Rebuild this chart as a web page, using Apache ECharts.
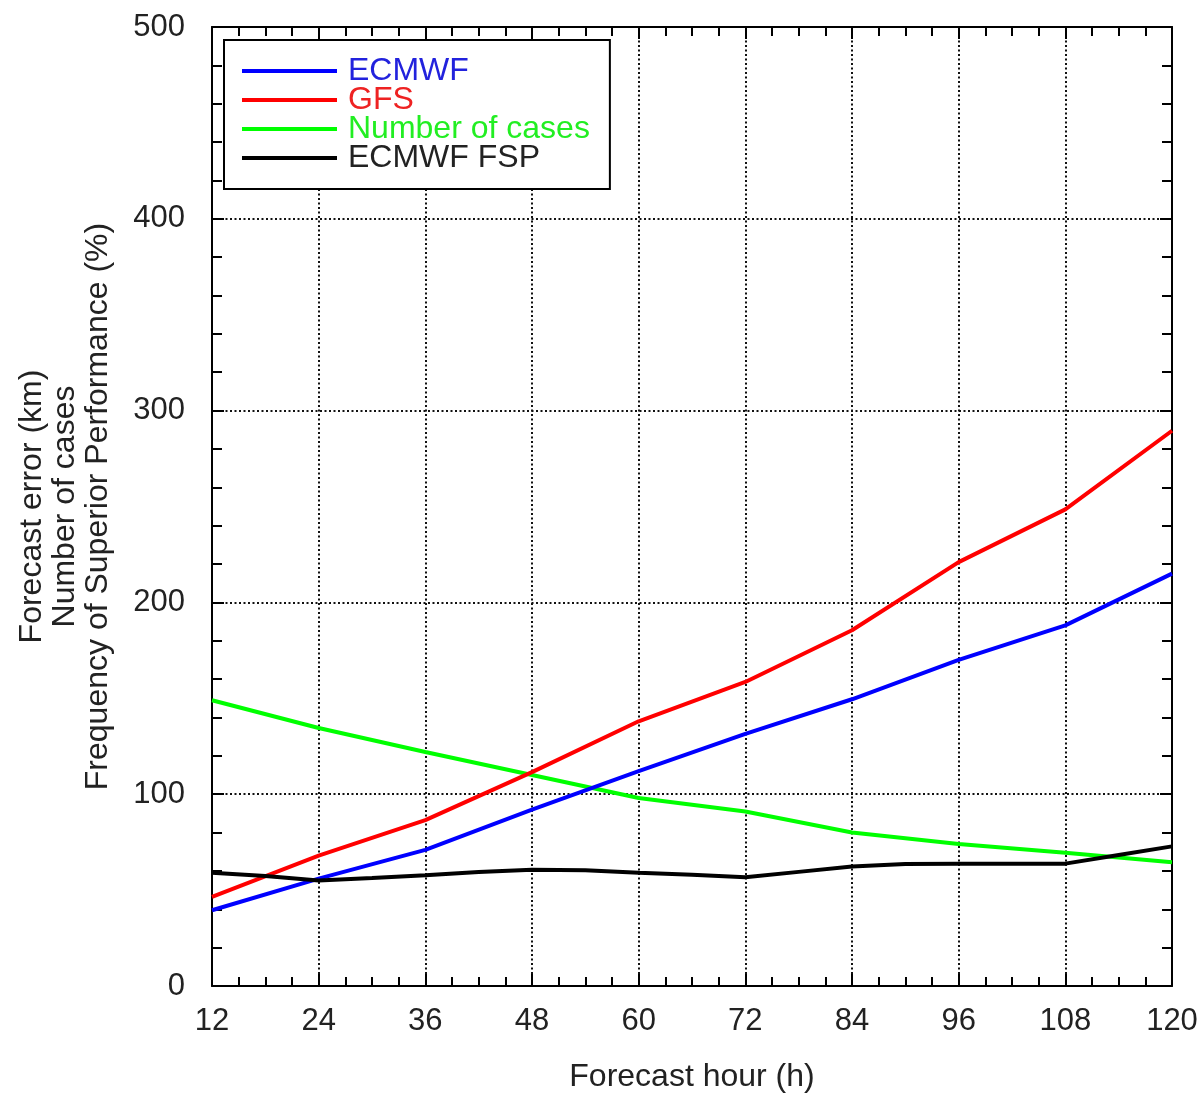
<!DOCTYPE html>
<html>
<head>
<meta charset="utf-8">
<script src="https://cdn.jsdelivr.net/npm/echarts@6/dist/echarts.min.js"></script>
<style>
html,body{margin:0;padding:0;background:#fff;}
#chart{width:1203px;height:1098px;}
</style>
</head>
<body>
<div id="chart"></div>
<script>
var hours = [12, 24, 36, 48, 60, 72, 84, 96, 108, 120];
var ecmwf = [39.5, 56, 71, 92, 112, 131.5, 149.5, 170, 188, 215];
var gfs = [46.5, 68, 86.5, 111.5, 138, 158.5, 185.5, 221, 248.5, 289.5];
var cases = [149, 134.5, 122, 110, 98, 91, 80, 74, 69.5, 64.5];
var fspHours = [12, 18, 24, 30, 36, 42, 48, 54, 60, 66, 72, 78, 84, 90, 96, 102, 108, 114, 120];
var fsp = [59.1, 57.3, 55, 56.3, 57.7, 59.4, 60.6, 60.4, 59.1, 58, 56.7, 59.5, 62.3, 63.6, 63.8, 63.8, 63.8, 68.3, 72.8];
var xTicks = ['12', '24', '36', '48', '60', '72', '84', '96', '108', '120'];
var yTicks = ['0', '100', '200', '300', '400', '500'];

function pairs(xs, ys) { return xs.map(function (x, i) { return [x, ys[i]]; }); }

var FONT = 'Liberation Sans';
var TXT = '#222';
var chart = echarts.init(document.getElementById('chart'));

var gridLine = { show: true, lineStyle: { color: '#111', width: 2, type: [2, 2.5] } };
var axLine = { show: true, onZero: false, lineStyle: { color: '#000', width: 2 } };
var tick = { show: true, inside: true, length: 12, lineStyle: { color: '#000', width: 2 } };

chart.setOption({
  backgroundColor: '#fff',
  animation: false,
  grid: { left: 212, right: 31, top: 27, bottom: 111, containLabel: false },
  legend: {
    orient: 'vertical',
    left: 224,
    top: 40,
    padding: [15, 20, 15, 18],
    backgroundColor: '#fff',
    borderColor: '#000',
    borderWidth: 2,
    borderRadius: 0,
    itemWidth: 95,
    itemHeight: 4,
    itemGap: -3,
    icon: 'rect',
    textStyle: { fontFamily: FONT, fontSize: 32, lineHeight: 29, padding: [0, 0, 0, 6] },
    data: [
      { name: 'ECMWF', textStyle: { color: '#2222dd' } },
      { name: 'GFS', textStyle: { color: '#ee2222' } },
      { name: 'Number of cases', textStyle: { color: '#22ee22' } },
      { name: 'ECMWF FSP', textStyle: { color: '#222' } }
    ]
  },
  xAxis: [{
    type: 'value', min: 12, max: 120, interval: 12,
    name: 'Forecast hour (h)', nameLocation: 'middle', nameGap: 75,
    nameTextStyle: { fontFamily: FONT, fontSize: 32, color: TXT },
    axisLine: axLine, axisTick: tick,
    minorTick: { show: true, splitNumber: 4, length: 9, lineStyle: { color: '#000', width: 2 } },
    axisLabel: { fontFamily: FONT, fontSize: 31, color: TXT, margin: 20,
      formatter: function (v) { var i = hours.indexOf(v); return i >= 0 ? xTicks[i] : ''; } },
    splitLine: gridLine
  }, {
    type: 'value', min: 12, max: 120, interval: 12, position: 'top',
    axisLine: axLine, axisTick: tick,
    minorTick: { show: true, splitNumber: 4, length: 9, lineStyle: { color: '#000', width: 2 } },
    axisLabel: { show: false }, splitLine: { show: false }
  }],
  yAxis: [{
    type: 'value', min: 0, max: 500, interval: 100,
    name: 'Forecast error (km)\nNumber of cases\nFrequency of Superior Performance (%)',
    nameLocation: 'middle', nameRotate: 90, nameGap: 97,
    nameTextStyle: { fontFamily: FONT, fontSize: 32, color: TXT, lineHeight: 33, align: 'center' },
    axisLine: axLine, axisTick: tick,
    minorTick: { show: true, splitNumber: 5, length: 10, lineStyle: { color: '#000', width: 2 } },
    axisLabel: { fontFamily: FONT, fontSize: 31, color: TXT, margin: 27,
      formatter: function (v) { return yTicks[Math.round(v / 100)]; } },
    splitLine: gridLine
  }, {
    type: 'value', min: 0, max: 500, interval: 100, position: 'right',
    axisLine: axLine, axisTick: tick,
    minorTick: { show: true, splitNumber: 5, length: 10, lineStyle: { color: '#000', width: 2 } },
    axisLabel: { show: false }, splitLine: { show: false }
  }],
  series: [
    { name: 'ECMWF', type: 'line', data: pairs(hours, ecmwf), showSymbol: false, symbol: 'none',
      lineStyle: { color: '#0000ff', width: 4 }, itemStyle: { color: '#0000ff' }, z: 4 },
    { name: 'GFS', type: 'line', data: pairs(hours, gfs), showSymbol: false, symbol: 'none',
      lineStyle: { color: '#ff0000', width: 4 }, itemStyle: { color: '#ff0000' }, z: 3 },
    { name: 'Number of cases', type: 'line', data: pairs(hours, cases), showSymbol: false, symbol: 'none',
      lineStyle: { color: '#00ff00', width: 4 }, itemStyle: { color: '#00ff00' }, z: 2 },
    { name: 'ECMWF FSP', type: 'line', data: pairs(fspHours, fsp), showSymbol: false, symbol: 'none',
      lineStyle: { color: '#000', width: 4 }, itemStyle: { color: '#000' }, z: 5 }
  ]
});
</script>
</body>
</html>
